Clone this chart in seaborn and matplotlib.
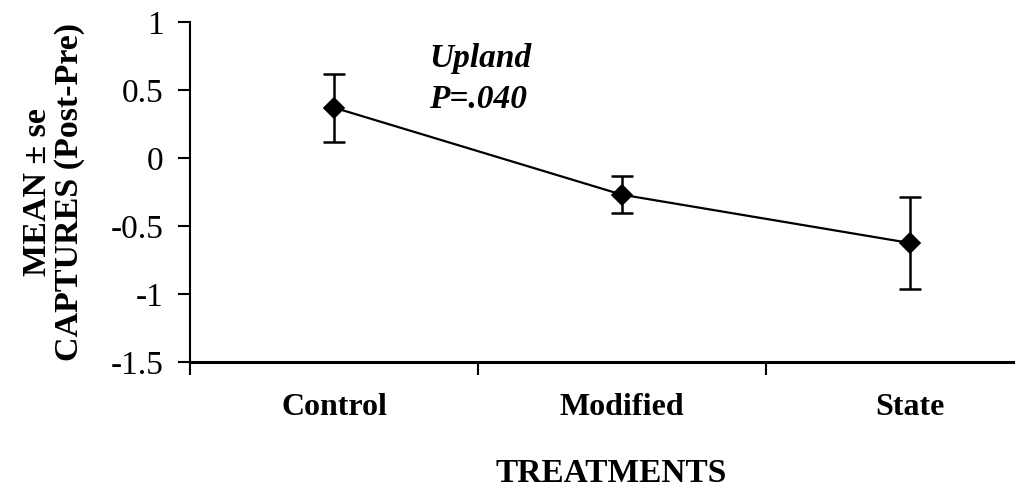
import matplotlib
matplotlib.use("Agg")
import matplotlib.pyplot as plt
import seaborn as sns
import numpy as np

categories = ["Control", "Modified", "State"]
means = [0.37, -0.27, -0.625]
se = [0.25, 0.135, 0.335]
y_ticks = [-1.5, -1, -0.5, 0, 0.5, 1]
y_tick_labels = ["-1.5", "-1", "-0.5", "0", "0.5", "1"]
annot_site = "Upland"
annot_p = "P=.040"

sns.set_theme(style="white")
plt.rcParams["font.family"] = ["Liberation Serif", "DejaVu Serif"]

fig = plt.figure(figsize=(10.15, 4.95), dpi=100)
ax = fig.add_axes([0.1872, 0.2687, 0.851, 0.687])

sns.pointplot(x=categories, y=means, color="black", markers="D", linestyles="-",
              errorbar=None, ax=ax, markersize=10, linewidth=1.6)
ax.errorbar(np.arange(len(categories)), means, yerr=se, fmt="none", ecolor="black",
            elinewidth=1.8, capsize=8, capthick=1.8)

ax.set_xlim(-0.5, 2.5)
ax.set_ylim(-1.5, 1)
ax.set_yticks(y_ticks)
ax.set_yticklabels(y_tick_labels)
ax.tick_params(axis="y", direction="out", length=9, width=1.5, pad=10,
               labelsize=24, left=True, color="black", labelcolor="black")
ax.set_xticks(range(len(categories)))
ax.set_xticklabels(categories, fontweight="bold", fontsize=23)
ax.tick_params(axis="x", which="major", length=0, pad=22, labelcolor="black")
ax.set_xticks([-0.5, 0.5, 1.5], minor=True)
ax.tick_params(axis="x", which="minor", direction="out", length=9, width=1.5,
               bottom=True, color="black")

for s in ["top", "right"]:
    ax.spines[s].set_visible(False)
ax.spines["left"].set_linewidth(1.5)
ax.spines["left"].set_color("black")
ax.spines["bottom"].set_linewidth(2.2)
ax.spines["bottom"].set_color("black")

ax.set_xlabel("TREATMENTS", fontweight="bold", fontsize=24, color="black")
ax.xaxis.set_label_coords(0.488, -0.283)
ax.set_ylabel("MEAN \u00b1 se\nCAPTURES (Post-Pre)", fontweight="bold", fontsize=24.5,
              color="black", multialignment="center", linespacing=1.05)
ax.yaxis.set_label_coords(-0.121, 0.5)

ax.text(0.33, 0.665, annot_site, fontweight="bold", fontstyle="italic", fontsize=24,
        color="black", ha="left", va="baseline")
ax.text(0.33, 0.37, annot_p, fontweight="bold", fontstyle="italic", fontsize=24,
        color="black", ha="left", va="baseline")

fig.savefig("out.png", dpi=100)
